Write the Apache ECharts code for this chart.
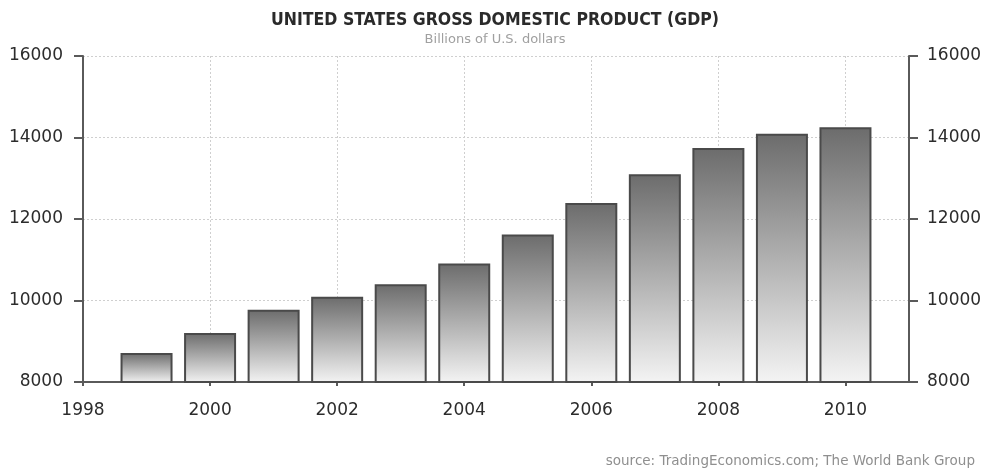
<!DOCTYPE html>
<html><head><meta charset="utf-8">
<script src="https://cdn.jsdelivr.net/npm/echarts@6/dist/echarts.min.js"></script>
<style>html,body{margin:0;padding:0;background:#fff}#c{width:990px;height:468px}</style>
</head><body><div id="c"></div>
<script>
const years = [1999, 2000, 2001, 2002, 2003, 2004, 2005, 2006, 2007, 2008, 2009, 2010];
const gdp = [8710, 9200, 9770, 10090, 10400, 10910, 11620, 12390, 13100, 13740, 14090, 14250];
const titleText = 'UNITED STATES GROSS DOMESTIC PRODUCT (GDP)';
const subtitleText = 'Billions of U.S. dollars';
const sourceText = 'source: TradingEconomics.com; The World Bank Group';

const chart = echarts.init(document.getElementById('c'), null, {renderer: 'canvas'});
const axisCol = '#5a5a5a';
const labelStyle = {color: '#2c2c2c', fontFamily: 'DejaVu Sans', fontSize: 17};
const plain = v => String(v);
const yAxisBase = {
  type: 'value', min: 8000, max: 16000, interval: 2000,
  axisLine: {show: true, lineStyle: {color: axisCol, width: 2}},
  axisTick: {show: true, length: 9, lineStyle: {color: axisCol, width: 2}},
};
chart.setOption({
  animation: false,
  title: [
    {text: titleText, subtext: subtitleText, left: 'center', top: 6, itemGap: 4,
     textStyle: {fontFamily: 'DejaVu Sans Condensed', fontWeight: 'bold', fontSize: 17.5, color: '#2a2a2a'},
     subtextStyle: {fontFamily: 'DejaVu Sans', fontSize: 13, color: '#a0a0a0'}},
    {text: sourceText, right: 10, top: 449,
     textStyle: {fontFamily: 'DejaVu Sans', fontWeight: 'normal', fontSize: 13.5, color: '#8f8f8f'}}
  ],
  grid: {left: 83, right: 81, top: 56, bottom: 86},
  xAxis: {
    type: 'value', min: 1998, max: 2011, interval: 2,
    axisLine: {show: true, lineStyle: {color: axisCol, width: 2}},
    axisTick: {show: true, length: 4, lineStyle: {color: axisCol, width: 2}},
    axisLabel: Object.assign({margin: 20, showMaxLabel: false, formatter: v => (v % 2 === 0 ? String(v) : '')}, labelStyle),
    splitLine: {show: true, lineStyle: {color: '#cfcfcf', type: [2, 2], width: 1}}
  },
  yAxis: [
    Object.assign({}, yAxisBase, {position: 'left',
      axisLabel: Object.assign({margin: 20, formatter: plain}, labelStyle),
      splitLine: {show: true, lineStyle: {color: '#cfcfcf', type: [2, 2], width: 1}}}),
    Object.assign({}, yAxisBase, {position: 'right',
      axisLabel: Object.assign({margin: 18, formatter: plain}, labelStyle),
      splitLine: {show: false}})
  ],
  series: [{
    type: 'bar', yAxisIndex: 0, barWidth: 52,
    data: years.map((y, i) => [y, gdp[i]]),
    itemStyle: {
      borderColor: '#4a4a4a', borderWidth: 2,
      color: new echarts.graphic.LinearGradient(0, 0, 0, 1, [
        {offset: 0, color: '#6c6c6c'}, {offset: 1, color: '#f4f4f4'}
      ])
    }
  }]
});
</script></body></html>
